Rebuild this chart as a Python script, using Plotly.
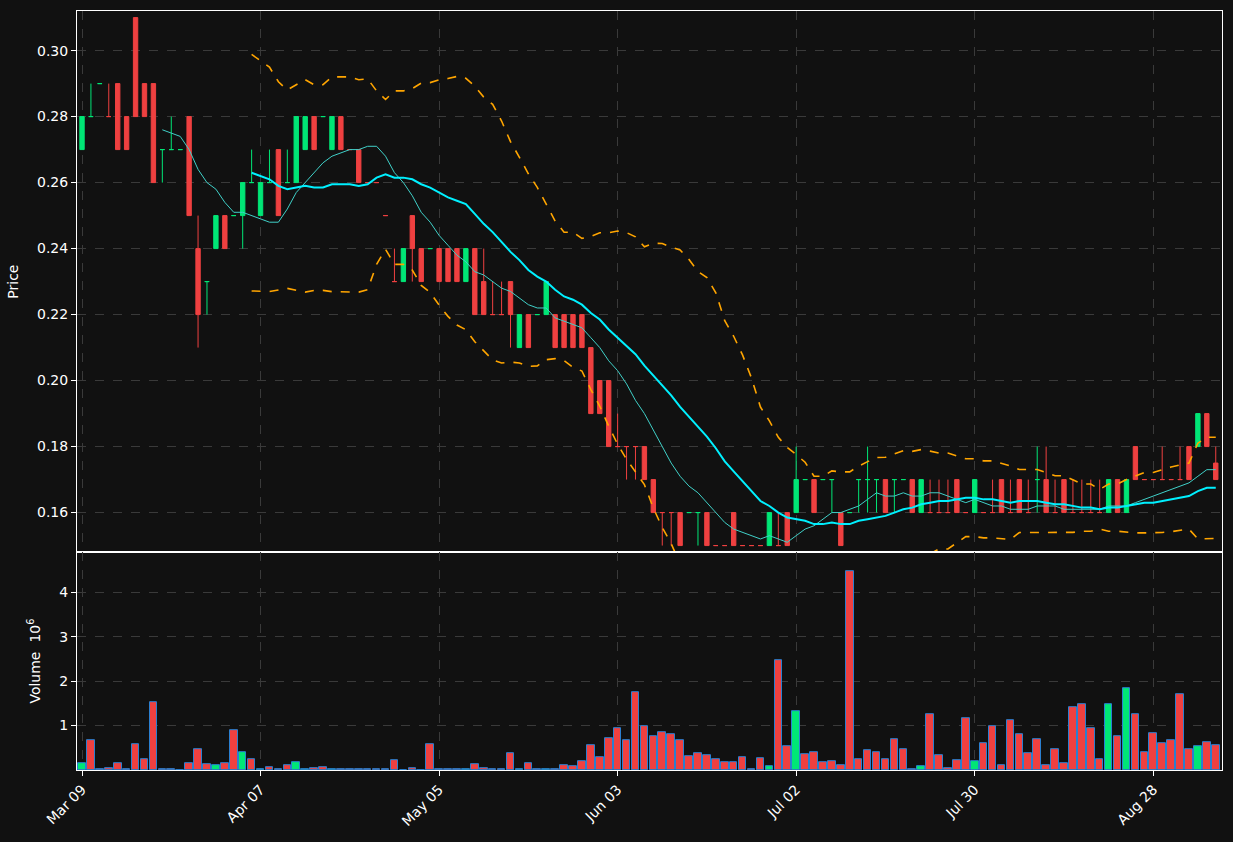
import pandas as pd
import plotly.graph_objects as go
from plotly.subplots import make_subplots

tick_labels = ["Mar 09", "Apr 07", "May 05", "Jun 03", "Jul 02", "Jul 30", "Aug 28"]
tick_index = [0, 20, 40, 60, 80, 100, 120]

opens = [0.27,0.28,0.29,0.28,0.29,0.28,0.31,0.29,0.29,0.27,0.27,0.27,0.28,0.24,0.23,0.24,0.25,0.25,0.25,0.26,
         0.25,0.26,0.27,0.26,0.26,0.27,0.28,0.28,0.27,0.28,0.27,0.27,0.26,0.26,0.25,0.23,0.23,0.25,0.24,0.24,
         0.24,0.24,0.24,0.23,0.24,0.23,0.22,0.22,0.23,0.21,0.22,0.22,0.22,0.22,0.22,0.22,0.22,0.21,0.20,0.20,
         0.18,0.18,0.18,0.18,0.17,0.16,0.16,0.16,0.16,0.16,0.16,0.15,0.15,0.16,0.15,0.15,0.15,0.15,0.15,0.16,
         0.16,0.17,0.17,0.17,0.17,0.16,0.16,0.17,0.17,0.17,0.17,0.17,0.17,0.17,0.16,0.16,0.16,0.16,0.17,0.16,
         0.16,0.16,0.16,0.17,0.16,0.17,0.16,0.17,0.17,0.16,0.17,0.16,0.16,0.16,0.16,0.16,0.17,0.16,0.18,0.17,
         0.17,0.17,0.17,0.17,0.18,0.18,0.19,0.175]
closes = [0.28,0.28,0.29,0.28,0.27,0.27,0.28,0.28,0.26,0.27,0.27,0.27,0.25,0.22,0.23,0.25,0.24,0.25,0.26,0.26,
          0.26,0.26,0.25,0.26,0.28,0.28,0.27,0.28,0.28,0.27,0.27,0.26,0.26,0.26,0.25,0.23,0.24,0.24,0.23,0.24,
          0.23,0.23,0.23,0.24,0.22,0.22,0.22,0.22,0.22,0.22,0.21,0.22,0.23,0.21,0.21,0.21,0.21,0.19,0.19,0.18,
          0.18,0.18,0.18,0.17,0.16,0.16,0.16,0.15,0.16,0.16,0.15,0.15,0.15,0.15,0.15,0.15,0.15,0.16,0.15,0.15,
          0.17,0.17,0.16,0.17,0.17,0.15,0.16,0.17,0.17,0.17,0.16,0.17,0.17,0.16,0.17,0.16,0.16,0.16,0.16,0.16,
          0.17,0.16,0.16,0.16,0.16,0.16,0.16,0.17,0.16,0.16,0.16,0.16,0.16,0.16,0.16,0.17,0.16,0.17,0.17,0.17,
          0.17,0.17,0.17,0.17,0.17,0.19,0.18,0.17]
highs = [0.28,0.29,0.29,0.29,0.29,0.28,0.31,0.29,0.29,0.27,0.28,0.27,0.28,0.25,0.23,0.25,0.25,0.25,0.26,0.27,
         0.26,0.27,0.27,0.27,0.28,0.28,0.28,0.28,0.28,0.28,0.27,0.27,0.26,0.26,0.25,0.24,0.24,0.25,0.24,0.24,
         0.24,0.24,0.24,0.24,0.24,0.24,0.23,0.23,0.23,0.22,0.22,0.22,0.23,0.22,0.22,0.22,0.22,0.21,0.20,0.20,
         0.19,0.18,0.18,0.18,0.17,0.16,0.16,0.16,0.16,0.16,0.16,0.15,0.15,0.16,0.15,0.15,0.15,0.16,0.16,0.16,
         0.18,0.17,0.17,0.17,0.17,0.16,0.16,0.17,0.18,0.17,0.17,0.17,0.17,0.17,0.17,0.17,0.17,0.17,0.17,0.16,
         0.17,0.16,0.17,0.17,0.17,0.17,0.17,0.18,0.18,0.17,0.17,0.17,0.17,0.17,0.17,0.17,0.17,0.17,0.18,0.17,
         0.17,0.18,0.17,0.18,0.18,0.19,0.19,0.18]
lows = [0.27,0.28,0.29,0.28,0.27,0.27,0.28,0.28,0.26,0.26,0.27,0.27,0.25,0.21,0.22,0.24,0.24,0.25,0.24,0.26,
        0.25,0.26,0.25,0.26,0.26,0.27,0.27,0.28,0.27,0.27,0.27,0.26,0.26,0.26,0.25,0.23,0.23,0.23,0.23,0.24,
        0.23,0.23,0.23,0.23,0.22,0.22,0.22,0.22,0.21,0.21,0.21,0.22,0.22,0.21,0.21,0.21,0.21,0.19,0.19,0.18,
        0.18,0.17,0.17,0.17,0.16,0.15,0.15,0.15,0.16,0.15,0.15,0.15,0.15,0.15,0.15,0.15,0.15,0.15,0.15,0.15,
        0.16,0.17,0.16,0.17,0.16,0.15,0.16,0.16,0.16,0.16,0.16,0.16,0.17,0.16,0.16,0.16,0.16,0.16,0.16,0.16,
        0.16,0.16,0.16,0.16,0.16,0.16,0.16,0.16,0.16,0.16,0.16,0.16,0.16,0.16,0.16,0.16,0.16,0.16,0.17,0.17,
        0.17,0.17,0.17,0.17,0.17,0.18,0.18,0.17]
volumes = [0.15,0.68,0.01,0.05,0.16,0.02,0.57,0.25,1.53,0.01,0.01,0.0,0.16,0.47,0.14,0.12,0.15,0.9,0.4,0.25,
           0.01,0.07,0.01,0.1,0.17,0.02,0.04,0.07,0.01,0.01,0.01,0.03,0.03,0.01,0.01,0.22,0.0,0.05,0.0,0.57,
           0.01,0.01,0.01,0.01,0.14,0.05,0.02,0.02,0.37,0.02,0.16,0.02,0.03,0.01,0.12,0.08,0.2,0.56,0.28,0.72,
           0.93,0.68,1.75,0.98,0.77,0.85,0.8,0.66,0.32,0.38,0.34,0.25,0.18,0.18,0.3,0.03,0.26,0.08,2.47,0.53,
           1.32,0.35,0.41,0.17,0.2,0.1,4.48,0.25,0.44,0.41,0.25,0.69,0.47,0.03,0.09,1.25,0.34,0.05,0.22,1.17,
           0.2,0.6,0.99,0.12,1.11,0.81,0.39,0.7,0.1,0.47,0.15,1.42,1.48,0.95,0.25,1.47,0.76,1.84,1.25,0.4,
           0.83,0.6,0.66,1.71,0.46,0.53,0.62,0.55]

UP = "#00e676"
DOWN = "#ef4040"
BG = "#111111"

idx = list(range(len(closes)))
close_s = pd.Series(closes)
ma10 = close_s.rolling(10).mean()
ma20 = close_s.rolling(20).mean()
sd20 = close_s.rolling(20).std(ddof=0)
bb_up = ma20 + 2 * sd20
bb_lo = ma20 - 2 * sd20

fig = make_subplots(rows=2, cols=1, shared_xaxes=True, vertical_spacing=0,
                    row_heights=[0.713, 0.287])

fig.add_trace(go.Candlestick(x=idx, open=opens, high=highs, low=lows, close=closes,
                             increasing=dict(line=dict(color=UP, width=1), fillcolor=UP),
                             decreasing=dict(line=dict(color=DOWN, width=1), fillcolor=DOWN),
                             whiskerwidth=0, showlegend=False), row=1, col=1)
fig.add_trace(go.Scatter(x=idx, y=ma10, mode="lines", line=dict(color="#40d0c8", width=1),
                         showlegend=False), row=1, col=1)
fig.add_trace(go.Scatter(x=idx, y=ma20, mode="lines", line=dict(color="#00f0ff", width=2),
                         showlegend=False), row=1, col=1)
for band in (bb_up, bb_lo):
    fig.add_trace(go.Scatter(x=idx, y=band, mode="lines",
                             line=dict(color="#ffa500", width=1.6, dash="dash"),
                             showlegend=False), row=1, col=1)

vol_colors = [UP if c > o else DOWN for o, c in zip(opens, closes)]
fig.add_trace(go.Bar(x=idx, y=volumes, width=0.85, marker=dict(color=vol_colors,
                     line=dict(color="#2a7fd0", width=1)), showlegend=False), row=2, col=1)

grid = dict(showgrid=True, gridcolor="#3a3a3a", griddash="dash", gridwidth=1,
            showline=True, linecolor="white", linewidth=1, mirror=True,
            zeroline=False, tickfont=dict(color="white", size=14), color="white")

fig.update_xaxes(**grid, range=[-0.56, 127.7], tickvals=tick_index, ticktext=tick_labels,
                 tickangle=-45, ticks="outside", tickcolor="white", rangeslider_visible=False)
fig.update_xaxes(showticklabels=False, row=1, col=1)
fig.update_yaxes(**grid, ticks="outside", tickcolor="white")
fig.update_yaxes(range=[0.148, 0.312], tickvals=[0.16,0.18,0.20,0.22,0.24,0.26,0.28,0.30],
                 tickformat=".2f", title=dict(text="Price", font=dict(color="white", size=14)),
                 row=1, col=1)
fig.update_yaxes(range=[0, 4.9], tickvals=[1, 2, 3, 4],
                 title=dict(text="Volume  10<sup>6</sup>", font=dict(color="white", size=14)),
                 row=2, col=1)

fig.update_layout(width=1233, height=842, paper_bgcolor=BG, plot_bgcolor=BG,
                  margin=dict(l=77, r=11, t=11, b=72), bargap=0,
                  font=dict(family="DejaVu Sans", color="white"))
fig.write_html("out.html", config={"displayModeBar": False})

with open("out.html", encoding="utf-8") as f:
    html = f.read()
html = html.replace("<body>", '<body style="margin:0;background:#111111">', 1)
with open("out.html", "w", encoding="utf-8") as f:
    f.write(html)
